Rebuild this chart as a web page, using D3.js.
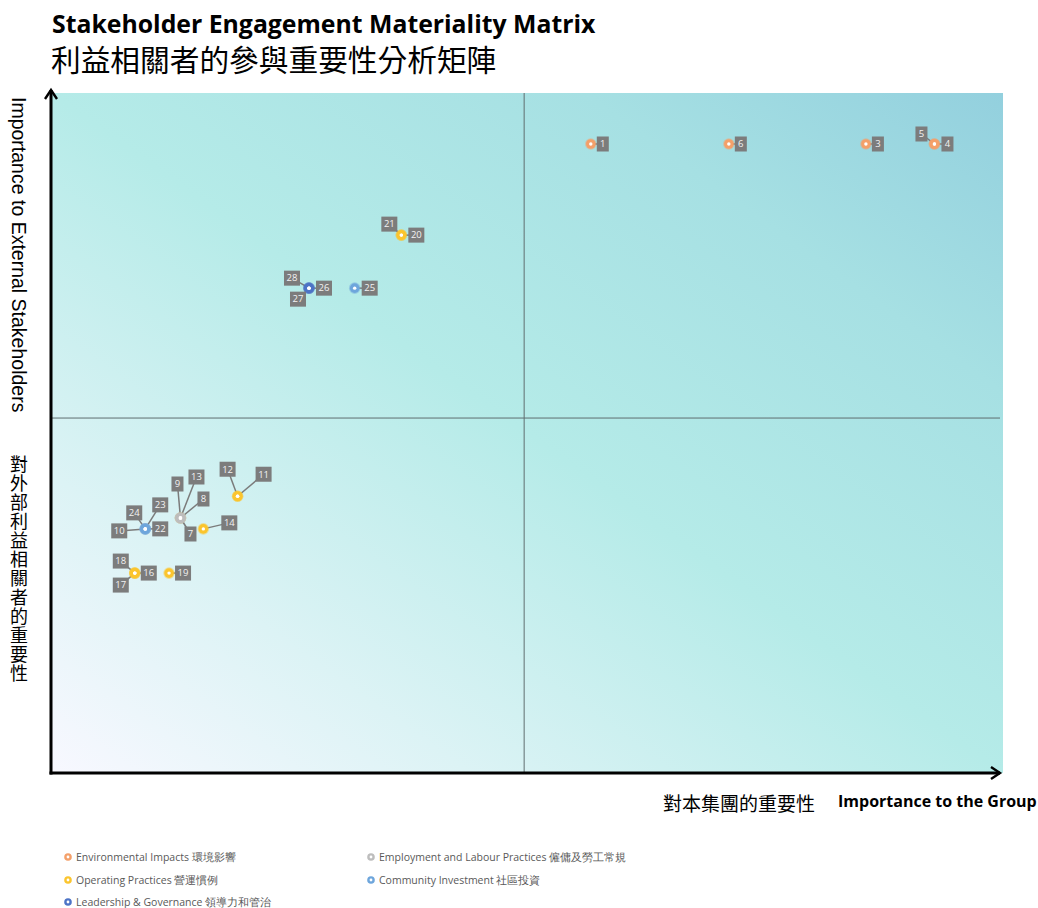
<!DOCTYPE html>
<html>
<head>
<meta charset="utf-8">
<script src="https://cdn.jsdelivr.net/npm/d3@7"></script>
<style>
  body { margin: 0; background: #fff; }
  svg { display: block; }
</style>
</head>
<body>
<script>
// categories (legend order)
var categories = ["Environmental Impacts 環境影響", "Employment and Labour Practices 僱傭及勞工常規",
  "Operating Practices 營運慣例", "Community Investment 社區投資", "Leadership & Governance 領導力和管治"];
var categoryColors = ["#f4a06a", "#bdbdbd", "#fbc52e", "#6ea6dc", "#4d74c6"];
// draw order so the upper marker matches the picture
var drawOrder = [2, 0, 1, 3, 4];

// issues: id, category index, importance to group (x), importance to external stakeholders (y)
var issueIds = [1, 3, 4, 5, 6, 7, 8, 9, 10, 11, 12, 13, 14, 16, 17, 18, 19, 20, 21, 22, 23, 24, 25, 26, 27, 28];
var issueCats = [0, 0, 0, 0, 0, 1, 1, 1, 1, 2, 2, 2, 2, 2, 2, 2, 2, 2, 2, 3, 3, 3, 3, 4, 4, 4];
var groupScore = [5.67, 8.56, 9.28, 9.28, 7.12, 1.36, 1.36, 1.36, 0.99, 1.96, 1.96, 1.36, 1.60,
  0.88, 0.88, 0.88, 1.24, 3.68, 3.68, 0.99, 0.99, 0.99, 3.19, 2.71, 2.71, 2.71];
var externalScore = [9.25, 9.25, 9.25, 9.25, 9.25, 3.75, 3.75, 3.75, 3.59, 4.07, 4.07, 3.75, 3.59,
  2.94, 2.94, 2.94, 2.94, 7.91, 7.91, 3.59, 3.59, 3.59, 7.13, 7.13, 7.13, 7.13];
var midGroup = 4.97, midExternal = 5.22;

// label offsets (px) from each marker, by id
var labelOffsets = {
  1: [12, 0], 3: [12, 0], 4: [13, 0], 5: [-13, -10], 6: [12, 0],
  7: [10, 16], 8: [23, -19], 9: [-3, -34], 10: [-26, 2], 11: [26, -22], 12: [-10, -27],
  13: [16, -41], 14: [26, -6], 16: [14, 0], 17: [-14, 12], 18: [-14, -12], 19: [14, 0],
  20: [15, 0], 21: [-12, -11], 22: [15, 0], 23: [15, -24], 24: [-11, -16], 25: [15, 0],
  26: [15, 0], 27: [-11, 11], 28: [-17, -10]
};

var issues = issueIds.map(function(id, i) {
  return {id: id, cat: issueCats[i], x: groupScore[i], y: externalScore[i]};
});

var svgWidth = 1038, svgHeight = 908;
var plot = {left: 51, right: 1003, top: 93, bottom: 773};
var cjk = "'Noto Sans CJK TC', 'Noto Sans CJK SC', sans-serif";
var latin = "'Open Sans', 'Noto Sans', sans-serif";

var svg = d3.select("body").append("svg").attr("width", svgWidth).attr("height", svgHeight);

var x = d3.scaleLinear().domain([0, 10]).range([plot.left, plot.right]);
var y = d3.scaleLinear().domain([0, 10]).range([plot.bottom, plot.top]);

// background gradient
var defs = svg.append("defs");
var grad = defs.append("linearGradient").attr("id", "bg")
  .attr("x1", "0").attr("y1", "1").attr("x2", "1").attr("y2", "0");
grad.append("stop").attr("offset", "0").attr("stop-color", "#f8f8ff");
grad.append("stop").attr("offset", "0.22").attr("stop-color", "#dcf3f5");
grad.append("stop").attr("offset", "0.5").attr("stop-color", "#b5ebe8");
grad.append("stop").attr("offset", "0.78").attr("stop-color", "#a6e0e3");
grad.append("stop").attr("offset", "1").attr("stop-color", "#93d0de");

defs.append("marker").attr("id", "arrow")
  .attr("viewBox", "0 0 10 10").attr("refX", 7).attr("refY", 5)
  .attr("markerWidth", 5).attr("markerHeight", 5).attr("orient", "auto")
  .append("path").attr("d", "M1,1 L7,5 L1,9")
  .attr("fill", "none").attr("stroke", "#000").attr("stroke-width", 1.6);

svg.append("rect")
  .attr("x", plot.left).attr("y", plot.top)
  .attr("width", plot.right - plot.left).attr("height", plot.bottom - plot.top)
  .attr("fill", "url(#bg)");

// quadrant lines
svg.append("line")
  .attr("x1", x(midGroup)).attr("x2", x(midGroup))
  .attr("y1", plot.top).attr("y2", plot.bottom)
  .attr("stroke", "#5f6e6f").attr("stroke-width", 1);
svg.append("line")
  .attr("x1", plot.left).attr("x2", plot.right - 3)
  .attr("y1", y(midExternal)).attr("y2", y(midExternal))
  .attr("stroke", "#5f6e6f").attr("stroke-width", 1);

// axes with arrows
svg.append("line")
  .attr("x1", plot.left).attr("y1", plot.bottom + 1.5)
  .attr("x2", plot.left).attr("y2", plot.top - 3)
  .attr("stroke", "#000").attr("stroke-width", 3).attr("marker-end", "url(#arrow)");
svg.append("line")
  .attr("x1", plot.left - 1.5).attr("y1", plot.bottom)
  .attr("x2", plot.right - 3).attr("y2", plot.bottom)
  .attr("stroke", "#000").attr("stroke-width", 3).attr("marker-end", "url(#arrow)");

// titles
svg.append("text").attr("x", 52).attr("y", 33)
  .style("font-family", latin).style("font-weight", "bold").style("font-size", "24.8px")
  .attr("fill", "#000").text("Stakeholder Engagement Materiality Matrix");
svg.append("text").attr("x", 51).attr("y", 71)
  .style("font-family", cjk).style("font-size", "29.7px")
  .attr("fill", "#000").text("利益相關者的參與重要性分析矩陣");

// y axis titles
svg.append("text")
  .attr("transform", "translate(12,97)rotate(90)")
  .style("font-family", "'Liberation Sans', Arial, sans-serif").style("font-size", "19.5px")
  .attr("fill", "#000").text("Importance to External Stakeholders");
svg.append("text")
  .attr("x", 19).attr("y", 455)
  .style("writing-mode", "vertical-rl").style("text-orientation", "upright")
  .style("letter-spacing", "1px")
  .style("font-family", cjk).style("font-size", "18px")
  .attr("fill", "#000").text("對外部利益相關者的重要性");

// x axis titles
svg.append("text").attr("x", 663).attr("y", 811)
  .style("font-family", cjk).style("font-size", "19px")
  .attr("fill", "#000").text("對本集團的重要性");
svg.append("text").attr("x", 838).attr("y", 807)
  .style("font-family", latin).style("font-weight", "bold").style("font-size", "16px")
  .attr("fill", "#000").text("Importance to the Group");

// leader lines + labels
var ordered = [];
drawOrder.forEach(function(c) {
  issues.forEach(function(d) { if (d.cat === c) ordered.push(d); });
});

var lab = svg.append("g");
lab.selectAll("line").data(issues).enter().append("line")
  .attr("x1", function(d) { return x(d.x); })
  .attr("y1", function(d) { return y(d.y); })
  .attr("x2", function(d) { return x(d.x) + labelOffsets[d.id][0]; })
  .attr("y2", function(d) { return y(d.y) + labelOffsets[d.id][1]; })
  .attr("stroke", "#7b7b7b").attr("stroke-width", 1.5);

// markers
var pts = svg.append("g");
pts.selectAll("circle.dot").data(ordered).enter().append("circle")
  .attr("class", "dot")
  .attr("cx", function(d) { return x(d.x); })
  .attr("cy", function(d) { return y(d.y); })
  .attr("r", 4.8)
  .attr("fill", function(d) { return categoryColors[d.cat]; })
  .attr("stroke", function(d) { return categoryColors[d.cat]; })
  .attr("stroke-opacity", 0.45).attr("stroke-width", 2);
pts.selectAll("circle.hole").data(ordered).enter().append("circle")
  .attr("class", "hole")
  .attr("cx", function(d) { return x(d.x); })
  .attr("cy", function(d) { return y(d.y); })
  .attr("r", 1.7).attr("fill", "#fff");

var boxes = svg.append("g").selectAll("g").data(issues).enter().append("g")
  .attr("transform", function(d) {
    return "translate(" + (x(d.x) + labelOffsets[d.id][0]) + "," + (y(d.y) + labelOffsets[d.id][1]) + ")";
  });
boxes.append("rect")
  .attr("x", function(d) { return d.id > 9 ? -8 : -6; })
  .attr("y", -7.5)
  .attr("width", function(d) { return d.id > 9 ? 16 : 12; })
  .attr("height", 15)
  .attr("fill", "#7c7c7c");
boxes.append("text")
  .attr("text-anchor", "middle").attr("dy", "0.35em")
  .style("font-family", latin).style("font-size", "9.5px")
  .attr("fill", "#f2f2f2").text(function(d) { return d.id; });

// legend
var legendPos = [[68, 857], [371, 857], [68, 880], [371, 880], [68, 902]];
var leg = svg.append("g").selectAll("g").data(categories).enter().append("g")
  .attr("transform", function(d, i) { return "translate(" + legendPos[i][0] + "," + legendPos[i][1] + ")"; });
leg.append("circle").attr("r", 3.8)
  .attr("fill", function(d, i) { return categoryColors[i]; });
leg.append("circle").attr("r", 1.4).attr("fill", "#fff");
leg.append("text").attr("x", 8).attr("dy", "0.35em")
  .style("font-family", latin).style("font-size", "10.5px")
  .attr("fill", "#595959").text(function(d) { return d; });
</script>
</body>
</html>
